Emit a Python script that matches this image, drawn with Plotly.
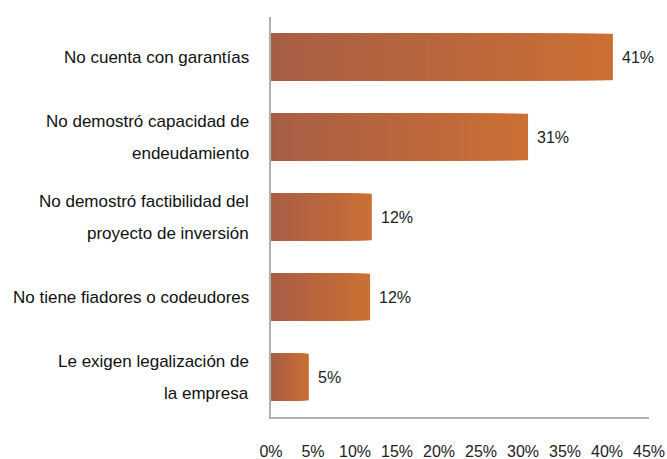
import plotly.graph_objects as go

categories = ["No cuenta con garantías",
              "No demostró capacidad de\nendeudamiento",
              "No demostró factibilidad del\nproyecto de inversión",
              "No tiene fiadores o codeudores",
              "Le exigen legalización de\nla empresa"]
values = [40.7, 30.6, 12.0, 11.8, 4.5]
value_labels = ["41%", "31%", "12%", "12%", "5%"]
tick_vals = [0, 5, 10, 15, 20, 25, 30, 35, 40, 45]
tick_text = ["0%", "5%", "10%", "15%", "20%", "25%", "30%", "35%", "40%", "45%"]

FONT = "Liberation Sans Narrow, Arial Narrow, Liberation Sans, Arial, sans-serif"
left_rgb = (168, 94, 70)
right_rgb = (203, 111, 52)
N = 40
ids = list(range(len(categories)))

fig = go.Figure()
for k in range(N):
    f = (N - k) / N
    t = (N - 1 - k) / (N - 1)
    c = tuple(round(left_rgb[i] + (right_rgb[i] - left_rgb[i]) * t) for i in range(3))
    fig.add_trace(go.Bar(
        y=ids, x=[v * f for v in values], orientation="h",
        marker=dict(color="rgb(%d,%d,%d)" % c, line=dict(width=0)),
        width=0.58, hoverinfo="skip", showlegend=False))

annotations = []
for i, (v, lab) in enumerate(zip(values, value_labels)):
    annotations.append(dict(x=v, y=i, xref="x", yref="y", text=lab, showarrow=False,
                            xanchor="left", xshift=7, font=dict(size=16, color="#222", family=FONT)))
for i, cat in enumerate(categories):
    lines = cat.split("\n")
    n = len(lines)
    for j, line in enumerate(lines):
        annotations.append(dict(x=0, y=i, xref="paper", yref="y", text=line, showarrow=False,
                                xanchor="right", xshift=-20, yshift=(n - 1) * 16 - j * 32,
                                font=dict(size=17, color="#111", family=FONT)))

fig.update_layout(
    width=667, height=459, barmode="overlay",
    margin=dict(l=271, r=18, t=17, b=42, autoexpand=False),
    paper_bgcolor="white", plot_bgcolor="white",
    annotations=annotations,
    xaxis=dict(range=[0, 45], tickvals=tick_vals, ticktext=tick_text, showgrid=False,
               zeroline=False, showline=True, linecolor="#b0b0b0", linewidth=1.5,
               automargin=False,
               ticks="", ticklabelstandoff=19, tickfont=dict(size=16, color="#222", family=FONT)),
    yaxis=dict(range=[4.5, -0.5], showticklabels=False, showgrid=False, zeroline=False,
               automargin=False,
               showline=True, linecolor="#b0b0b0", linewidth=1.5, ticks=""),
)
fig.write_html("out.html", config={"displayModeBar": False},
               post_script="document.body.style.margin='0';document.body.style.overflow='hidden';")
